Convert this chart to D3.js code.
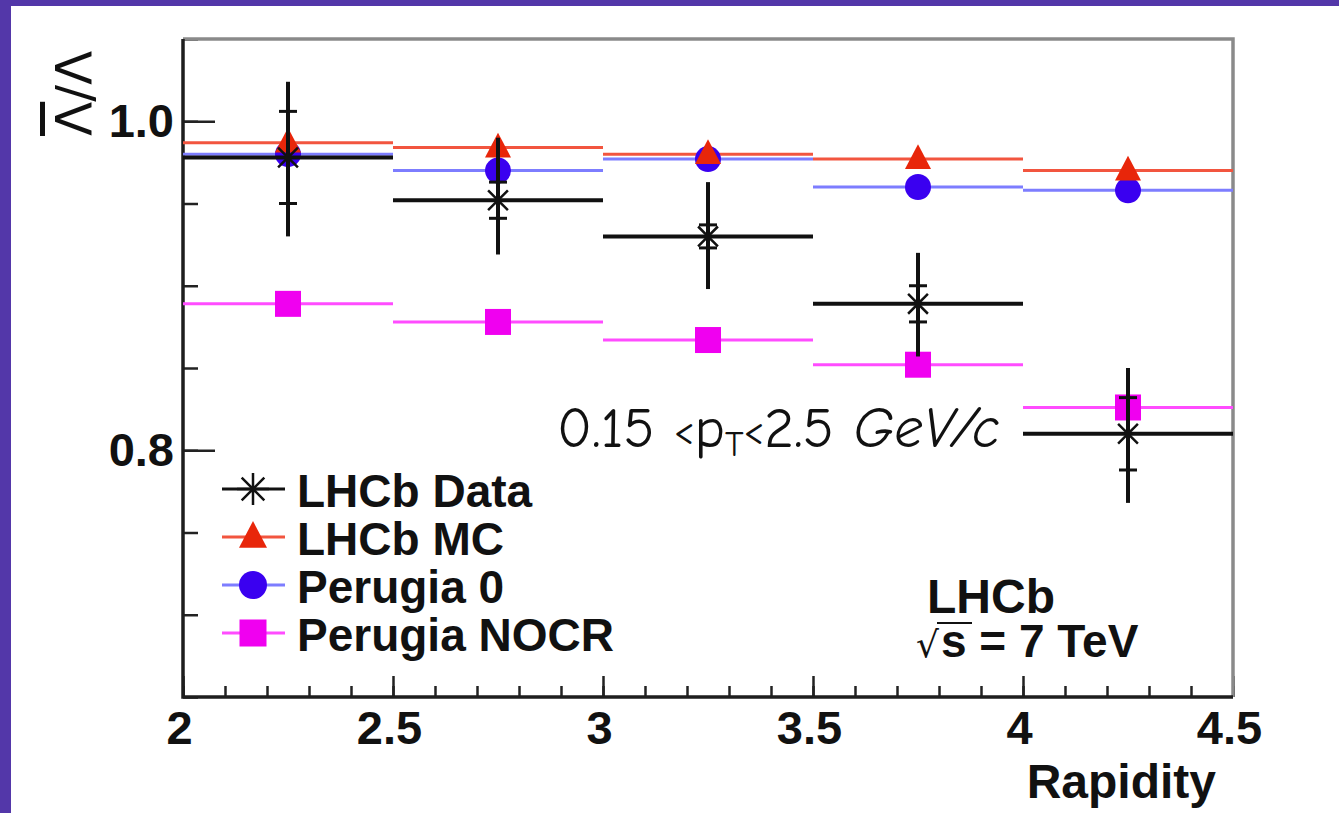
<!DOCTYPE html>
<html><head><meta charset="utf-8">
<script src="https://cdn.jsdelivr.net/npm/d3@7"></script>
<style>html,body{margin:0;padding:0;background:#fff;overflow:hidden}</style>
</head><body>
<svg id="c" width="1339" height="813"></svg>
<script>
// ---- data ----
const binEdges = [2, 2.5, 3, 3.5, 4, 4.5];
const binCenters = [2.25, 2.75, 3.25, 3.75, 4.25];
const dataValues = [0.978, 0.952, 0.930, 0.889, 0.810];
const dataStatErr = [0.028, 0.011, 0.007, 0.011, 0.022];
const dataTotErrUp = [0.046, 0.038, 0.033, 0.031, 0.040];
const dataTotErrDown = [0.048, 0.033, 0.032, 0.032, 0.042];
const mcValues = [0.987, 0.984, 0.980, 0.977, 0.970];
const perugia0Values = [0.980, 0.970, 0.977, 0.960, 0.958];
const perugiaNocrValues = [0.889, 0.878, 0.867, 0.852, 0.826];
const xTickValues = [2, 2.5, 3, 3.5, 4, 4.5];
const xTickLabels = ["2", "2.5", "3", "3.5", "4", "4.5"];
const yTickValues = [0.8, 1.0];
const yTickLabels = ["0.8", "1.0"];
const legendLabels = ["LHCb Data", "LHCb MC", "Perugia 0", "Perugia NOCR"];

// ---- setup ----
const W = 1339, H = 813;
const svg = d3.select("#c");
const FONT = "'Liberation Sans', Arial, Helvetica, sans-serif";
svg.append("rect").attr("x", 0).attr("y", 0).attr("width", W).attr("height", H).attr("fill", "#fff");
svg.append("rect").attr("x", 0).attr("y", 0).attr("width", 11).attr("height", H).attr("fill", "#5337a9");
svg.append("rect").attr("x", 0).attr("y", 0).attr("width", W).attr("height", 6).attr("fill", "#5337a9");

const x = d3.scaleLinear().domain([2, 4.5]).range([183, 1233]);
const y = d3.scaleLinear().domain([0.65, 1.05]).range([697, 39]);

// ---- axes ----
const gx = svg.append("g").attr("transform", `translate(0,${y(0.65)})`);
gx.call(d3.axisBottom(x).tickValues(x.ticks(25)).tickSize(-11).tickFormat(""));
gx.selectAll(".tick line").attr("stroke", "#222").attr("stroke-width", 2.5);
const gx2 = svg.append("g").attr("transform", `translate(0,${y(0.65)})`);
gx2.call(d3.axisBottom(x).tickValues(xTickValues).tickSize(-21).tickPadding(14)
  .tickFormat((d, i) => xTickLabels[i]));
gx2.selectAll(".tick line").attr("stroke", "#222").attr("stroke-width", 2.5);
gx2.selectAll(".tick text").attr("font-family", FONT).attr("font-weight", "bold")
  .attr("font-size", 47).attr("fill", "#111").attr("dx", -4);
svg.selectAll(".domain").remove();

const gy = svg.append("g").attr("transform", `translate(${x(2)},0)`);
gy.call(d3.axisLeft(y).tickValues(y.ticks(8)).tickSize(-15).tickFormat(""));
gy.selectAll(".tick line").attr("stroke", "#222").attr("stroke-width", 2.5);
const gy2 = svg.append("g").attr("transform", `translate(${x(2)},0)`);
gy2.call(d3.axisLeft(y).tickValues(yTickValues).tickSize(-32).tickPadding(9)
  .tickFormat((d, i) => yTickLabels[i]));
gy2.selectAll(".tick line").attr("stroke", "#222").attr("stroke-width", 2.5);
gy2.selectAll(".tick text").attr("font-family", FONT).attr("font-weight", "bold")
  .attr("font-size", 47).attr("fill", "#111");
svg.selectAll(".domain").remove();

// frame
svg.append("path").attr("d", `M${x(2)},${y(1.05)}H${x(4.5)}V${y(0.65)}`)
  .attr("fill", "none").attr("stroke", "#8a8a8a").attr("stroke-width", 3.5);
svg.append("path").attr("d", `M${x(2)},${y(1.05)}V${y(0.65)}H${x(4.5)}`)
  .attr("fill", "none").attr("stroke", "#1e1e1e").attr("stroke-width", 3.5);

// ---- markers ----
function asterisk(g, cx, cy, r, sw) {
  const a = r * 0.7071;
  g.append("path").attr("d",
    `M${cx - r},${cy}H${cx + r}M${cx},${cy - r}V${cy + r}M${cx - a},${cy - a}L${cx + a},${cy + a}M${cx - a},${cy + a}L${cx + a},${cy - a}`)
    .attr("stroke", "#111").attr("stroke-width", sw).attr("fill", "none");
}
function triangle(g, cx, cy, s, color) {
  const h = s * 0.95;
  g.append("path").attr("d", `M${cx},${cy - h * 0.6}L${cx + s / 2},${cy + h * 0.4}L${cx - s / 2},${cy + h * 0.4}Z`)
    .attr("fill", color);
}
function circle(g, cx, cy, r, color) {
  g.append("circle").attr("cx", cx).attr("cy", cy).attr("r", r).attr("fill", color);
}
function square(g, cx, cy, s, color) {
  g.append("rect").attr("x", cx - s / 2).attr("y", cy - s / 2).attr("width", s).attr("height", s).attr("fill", color);
}

const series = [
  { vals: perugiaNocrValues, line: "#ff4cff", draw: (g, cx, cy) => square(g, cx, cy, 26, "#f000f0") },
  { vals: perugia0Values, line: "#7d7dff", draw: (g, cx, cy) => circle(g, cx, cy, 13, "#3a00f0") },
  { vals: mcValues, line: "#f2553f", draw: (g, cx, cy) => triangle(g, cx, cy, 26, "#e8260a") }
];

const plot = svg.append("g");
series.forEach(s => {
  s.vals.forEach((v, i) => {
    plot.append("line").attr("x1", x(binEdges[i])).attr("x2", x(binEdges[i + 1]))
      .attr("y1", y(v)).attr("y2", y(v)).attr("stroke", s.line).attr("stroke-width", 3);
  });
});
series.forEach(s => {
  s.vals.forEach((v, i) => s.draw(plot, x(binCenters[i]), y(v)));
});

// data
dataValues.forEach((v, i) => {
  const cx = x(binCenters[i]);
  plot.append("line").attr("x1", x(binEdges[i])).attr("x2", x(binEdges[i + 1]))
    .attr("y1", y(v)).attr("y2", y(v)).attr("stroke", "#111").attr("stroke-width", 4);
  plot.append("line").attr("x1", cx).attr("x2", cx)
    .attr("y1", y(v + dataTotErrUp[i])).attr("y2", y(v - dataTotErrDown[i]))
    .attr("stroke", "#111").attr("stroke-width", 4);
  [v + dataStatErr[i], v - dataStatErr[i]].forEach(e => {
    plot.append("line").attr("x1", cx - 9).attr("x2", cx + 9).attr("y1", y(e)).attr("y2", y(e))
      .attr("stroke", "#111").attr("stroke-width", 3);
  });
  asterisk(plot, cx, y(v), 14, 2.5);
});

// ---- legend ----
const leg = svg.append("g");
const legY0 = 489, legDy = 48, legX1 = 222, legX2 = 285, legMx = 253, legTx = 297;
const legColors = ["#111", "#f2553f", "#7d7dff", "#ff4cff"];
legendLabels.forEach((lab, i) => {
  const ly = legY0 + i * legDy;
  leg.append("line").attr("x1", legX1).attr("x2", legX2).attr("y1", ly).attr("y2", ly)
    .attr("stroke", legColors[i]).attr("stroke-width", 3);
  if (i === 0) asterisk(leg, legMx, ly, 16, 2.5);
  if (i === 1) triangle(leg, legMx, ly, 28, "#e8260a");
  if (i === 2) circle(leg, legMx, ly, 14, "#3a00f0");
  if (i === 3) square(leg, legMx, ly, 27, "#f000f0");
  leg.append("text").attr("x", legTx).attr("y", ly + 18).text(lab)
    .attr("font-family", FONT).attr("font-weight", "bold").attr("font-size", 46).attr("fill", "#111");
});

// ---- annotations ----
function buildAnn(fs) {
  const t = svg.append("text").attr("x", 557).attr("y", 447)
    .attr("font-family", "'Comic Sans MS', 'Comic Neue', 'Open Sans', sans-serif")
    .attr("font-size", fs).attr("fill", "#111");
  t.append("tspan").text("0.15 ");
  t.append("tspan").attr("font-size", fs * 0.7).attr("dy", -fs * 0.05).text("<");
  t.append("tspan").attr("dy", fs * 0.05).text("p");
  t.append("tspan").attr("font-size", fs * 0.62).attr("dy", fs * 0.16).text("T");
  t.append("tspan").attr("font-size", fs * 0.7).attr("dy", -fs * 0.21).text("<");
  t.append("tspan").attr("dy", fs * 0.05).text("2.5 ");
  t.append("tspan").attr("font-style", "italic").text("GeV/c");
  return t;
}
let ann = buildAnn(40);
const annW = ann.node().getComputedTextLength();
if (annW > 0) { ann.remove(); ann = buildAnn(40 * 443 / annW); }

svg.append("text").attr("x", 927).attr("y", 613).text("LHCb")
  .attr("font-family", FONT).attr("font-weight", "bold").attr("font-size", 48).attr("fill", "#111");
svg.append("text").attr("x", 916).attr("y", 657)
  .attr("font-family", "'DejaVu Sans', sans-serif").attr("font-size", 36).attr("fill", "#111").text("√");
svg.append("line").attr("x1", 937).attr("x2", 972).attr("y1", 623).attr("y2", 623)
  .attr("stroke", "#111").attr("stroke-width", 2);
svg.append("text").attr("x", 941).attr("y", 657)
  .attr("font-family", FONT).attr("font-weight", "bold").attr("font-size", 46).attr("fill", "#111")
  .text("s = 7 TeV");

svg.append("text").attr("x", 1216).attr("y", 798).attr("text-anchor", "end").text("Rapidity")
  .attr("font-family", FONT).attr("font-weight", "bold").attr("font-size", 48).attr("fill", "#111");

// y axis title (rotated)
const yt = svg.append("text").attr("transform", "translate(91,136) rotate(-90)")
  .attr("font-family", "'DejaVu Sans', sans-serif").attr("font-size", 50).attr("fill", "#111");
yt.append("tspan").attr("style", "text-decoration: overline").text("Λ");
yt.append("tspan").text("/Λ");
</script>
</body></html>
